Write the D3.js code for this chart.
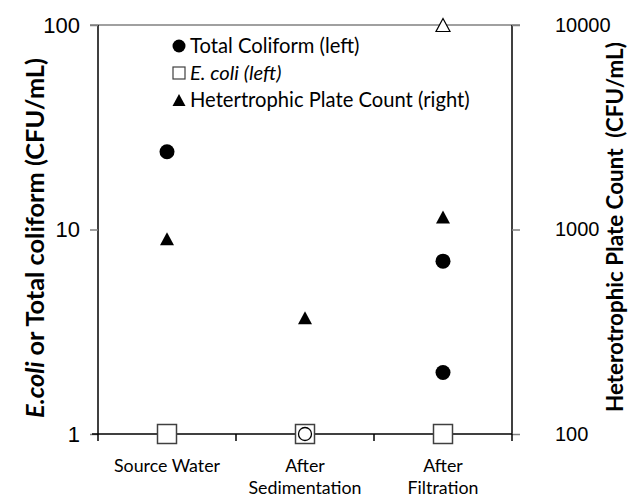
<!DOCTYPE html>
<html><head><meta charset="utf-8">
<script src="https://cdn.jsdelivr.net/npm/d3@7"></script>
<style>body{margin:0;background:#fff}</style>
</head><body><svg id="c" width="629" height="498"></svg>
<script>
const categories = ["Source Water", "After Sedimentation", "After Filtration"];
const categoryLines = [["Source Water"], ["After", "Sedimentation"], ["After", "Filtration"]];
const leftTicks = [1, 10, 100];
const rightTicks = [100, 1000, 10000];

// Total coliform (left axis); open = not detected
const tcCategory = ["Source Water", "After Sedimentation", "After Filtration", "After Filtration"];
const tcValue = [24, 1, 7, 2];
const tcOpen = [false, true, false, false];

// E. coli (left axis)
const ecCategory = ["Source Water", "After Sedimentation", "After Filtration"];
const ecValue = [1, 1, 1];

// Heterotrophic plate count (right axis)
const hpcCategory = ["Source Water", "After Sedimentation", "After Filtration", "After Filtration"];
const hpcValue = [900, 370, 1150, 10000];
const hpcOpen = [false, false, false, true];

const legendLabels = ["Total Coliform (left)", "E. coli (left)", "Hetertrophic Plate Count (right)"];

const svg = d3.select("#c");
const L = 98, R = 512, T = 25, B = 434;
const x = d3.scaleBand().domain(categories).range([L, R]);
const yL = d3.scaleLog().domain([1, 100]).range([B, T]);
const yR = d3.scaleLog().domain([100, 10000]).range([B, T]);
const cx = c => x(c) + x.bandwidth() / 2;

const numFont = "'Liberation Sans', Arial, sans-serif";
const txtFont = "Lato, 'Open Sans', sans-serif";

function fit(sel, target) {
  const n = sel.node();
  const fs = parseFloat(sel.attr("font-size"));
  const w = n.getComputedTextLength();
  if (w > 0) sel.attr("font-size", (fs * target / w).toFixed(2));
}

// top border
svg.append("line").attr("x1", L - 8).attr("x2", R + 8).attr("y1", T).attr("y2", T)
  .attr("stroke", "#808080").attr("stroke-width", 1.5);

// left axis
const gL = svg.append("g").attr("transform", `translate(${L},0)`)
  .call(d3.axisLeft(yL).tickValues(leftTicks).tickFormat(d3.format("d")).tickSize(8).tickPadding(10));
gL.select(".domain").attr("stroke", "#000").attr("stroke-width", 1.5).attr("d", `M0,${T}V${B}`);
gL.selectAll(".tick line").attr("stroke", "#808080").attr("stroke-width", 1.5);
gL.selectAll(".tick text").attr("font-family", numFont).attr("font-size", 22).attr("fill", "#000");

// right axis
const gR = svg.append("g").attr("transform", `translate(${R},0)`)
  .call(d3.axisRight(yR).tickValues(rightTicks).tickFormat(d3.format("d")).tickSize(8).tickPadding(35));
gR.select(".domain").attr("stroke", "#000").attr("stroke-width", 1.5).attr("d", `M0,${T}V${B}`);
gR.selectAll(".tick line").attr("stroke", "#808080").attr("stroke-width", 1.5);
gR.selectAll(".tick text").attr("font-family", numFont).attr("font-size", 20).attr("fill", "#000");

// x axis
const gX = svg.append("g").attr("transform", `translate(0,${B})`);
gX.append("line").attr("x1", L - 6).attr("x2", R).attr("stroke", "#000").attr("stroke-width", 1.5);
const bounds = categories.map(c => x(c)).concat([R]);
gX.selectAll("line.tk").data(bounds).join("line").attr("class", "tk")
  .attr("x1", d => d).attr("x2", d => d).attr("y1", 0).attr("y2", 7)
  .attr("stroke", "#000").attr("stroke-width", 1.5);
categories.forEach((c, i) => {
  const t = gX.append("text").attr("x", cx(c)).attr("y", 38).attr("text-anchor", "middle")
    .attr("font-family", txtFont).attr("font-size", 17.8).attr("fill", "#000");
  categoryLines[i].forEach((ln, j) => t.append("tspan").attr("x", cx(c)).attr("dy", j ? 22 : 0).text(ln));
});

// axis titles
const lt = svg.append("text").attr("transform", `translate(44,238) rotate(-90)`)
  .attr("text-anchor", "middle").attr("font-family", txtFont).attr("font-weight", "bold")
  .attr("font-size", 20).attr("fill", "#000");
lt.append("tspan").attr("font-style", "italic").text("E.coli");
lt.append("tspan").text(" or Total coliform (CFU/mL)");
fit(lt, 360);
const rt = svg.append("text").attr("transform", `translate(623,227) rotate(-90)`)
  .attr("text-anchor", "middle").attr("font-family", txtFont).attr("font-weight", "bold")
  .attr("font-size", 20).attr("fill", "#000")
  .style("white-space", "pre").text("Heterotrophic Plate Count  (CFU/mL)");
fit(rt, 370);

// E. coli squares
const sq = 19;
svg.selectAll("rect.ec").data(ecValue).join("rect").attr("class", "ec")
  .attr("x", (d, i) => cx(ecCategory[i]) - sq / 2).attr("y", d => yL(d) - sq / 2)
  .attr("width", sq).attr("height", sq).attr("fill", "#fff").attr("stroke", "#404040").attr("stroke-width", 1.5);

// Total coliform circles
svg.selectAll("circle.tc").data(tcValue).join("circle").attr("class", "tc")
  .attr("cx", (d, i) => cx(tcCategory[i])).attr("cy", d => yL(d))
  .attr("r", (d, i) => tcOpen[i] ? 6.5 : 7.5)
  .attr("fill", (d, i) => tcOpen[i] ? "none" : "#000").attr("stroke", "#000").attr("stroke-width", (d, i) => tcOpen[i] ? 1.3 : 0);

// HPC triangles
const tri = (cxp, cyp, w, h) => `M${cxp},${cyp - h / 2}L${cxp + w / 2},${cyp + h / 2}L${cxp - w / 2},${cyp + h / 2}Z`;
svg.selectAll("path.hpc").data(hpcValue).join("path").attr("class", "hpc")
  .attr("d", (d, i) => tri(cx(hpcCategory[i]), yR(d), 14, 13))
  .attr("fill", (d, i) => hpcOpen[i] ? "#fff" : "#000").attr("stroke", "#000").attr("stroke-width", (d, i) => hpcOpen[i] ? 1.2 : 0);

// legend
const lx = 179, ly = [46, 73, 100];
svg.append("circle").attr("cx", lx).attr("cy", ly[0]).attr("r", 6.5).attr("fill", "#000");
svg.append("rect").attr("x", lx - 6).attr("y", ly[1] - 6).attr("width", 12).attr("height", 12)
  .attr("fill", "#fff").attr("stroke", "#404040").attr("stroke-width", 1.2);
svg.append("path").attr("d", tri(lx, ly[2], 13, 12)).attr("fill", "#000");
legendLabels.forEach((s, i) => {
  svg.append("text").attr("x", lx + 11).attr("y", ly[i] + 7).attr("font-family", txtFont)
    .attr("font-size", 20.2).attr("font-style", i === 1 ? "italic" : "normal").attr("fill", "#000").text(s);
});
</script></body></html>
